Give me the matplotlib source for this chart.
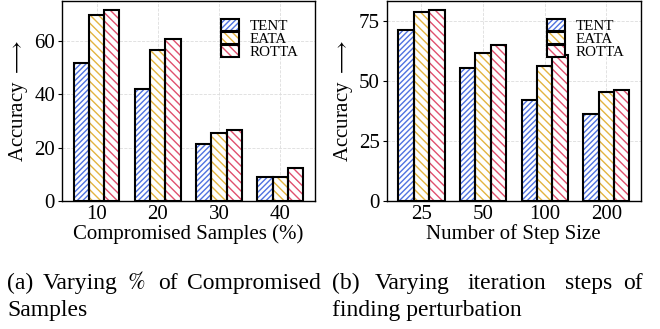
import matplotlib
matplotlib.use("Agg")
import matplotlib.pyplot as plt
from matplotlib.patches import Patch
from matplotlib.legend_handler import HandlerTuple
import numpy as np

plt.rcParams['font.family'] = ['Liberation Serif', 'DejaVu Serif']
plt.rcParams['mathtext.fontset'] = 'stix'
plt.rcParams['hatch.linewidth'] = 1.0

methods = ["TENT", "EATA", "ROTTA"]
colors = ["#4f72e0", "#e3b440", "#e0506e"]
hatches = ["//////", "\\\\\\\\", "\\\\\\\\"]

cats_a = ["10", "20", "30", "40"]
tent_a = [51.7, 41.8, 21.4, 9.1]
eata_a = [69.6, 56.4, 25.3, 9.1]
rotta_a = [71.4, 60.6, 26.4, 12.3]

cats_b = ["25", "50", "100", "200"]
tent_b = [71.1, 55.2, 41.9, 36.1]
eata_b = [78.5, 61.4, 56.2, 45.5]
rotta_b = [79.3, 64.8, 60.6, 46.2]

fig = plt.figure(figsize=(6.6, 3.29), dpi=100)
ax1 = fig.add_axes([0.094, 0.389, 0.383, 0.609])
ax2 = fig.add_axes([0.586, 0.389, 0.385, 0.609])

FS = 15


def draw(ax, cats, series, yticks, xlabel):
    x = np.arange(len(cats))
    w = 0.25
    for i, (vals, m) in enumerate(zip(series, methods)):
        ax.bar(x + (i - 1) * w, vals, w, facecolor="white",
               edgecolor=colors[i], hatch=hatches[i], linewidth=0, zorder=2)
        ax.bar(x + (i - 1) * w, vals, w, facecolor="none",
               edgecolor="black", linewidth=1.5, zorder=3)
    ax.set_xticks(x)
    ax.set_xticklabels(cats, fontsize=FS)
    ax.set_yticks(yticks)
    ax.tick_params(axis='y', labelsize=FS, length=3, pad=2)
    ax.tick_params(axis='x', length=0, pad=3)
    ymax = max(max(s) for s in series) * 1.05
    ax.set_ylim(0, ymax)
    ax.grid(True, color="#dddddd", linestyle="--", linewidth=0.6, zorder=0)
    ax.set_axisbelow(True)
    ax.set_xlabel(xlabel, fontsize=FS, labelpad=0)
    ax.set_ylabel(r"Accuracy $\longrightarrow$", fontsize=FS, labelpad=3)
    for sp in ax.spines.values():
        sp.set_linewidth(1.0)
    handles = []
    for i in range(3):
        p1 = Patch(facecolor="white", edgecolor=colors[i], hatch=hatches[i], linewidth=0)
        p2 = Patch(facecolor="none", edgecolor="black", linewidth=1.5)
        handles.append((p1, p2))
    ax.legend(handles=handles, labels=methods, loc="upper right", fontsize=10.8,
              frameon=False, labelspacing=-0.08, handlelength=1.15,
              handleheight=0.85, handletextpad=0.75,
              borderaxespad=0.2, bbox_to_anchor=(0.972, 0.952),
              handler_map={tuple: HandlerTuple(ndivide=1, pad=0)})


draw(ax1, cats_a, [tent_a, eata_a, rotta_a], [0, 20, 40, 60],
     "Compromised Samples (%)")
draw(ax2, cats_b, [tent_b, eata_b, rotta_b], [0, 25, 50, 75],
     "Number of Step Size")

CF = 17
y1, y2 = 0.1216, 0.0395
words_a = ["(a)", "Varying", r"$\%$", "of", "Compromised"]
xs_a = [7, 43, 127, 158, 187]
for wd, xx in zip(words_a, xs_a):
    fig.text(xx / 660, y1, wd, fontsize=CF, ha="left", va="baseline")
fig.text(7 / 660, y2, "Samples", fontsize=CF, ha="left", va="baseline")
words_b = ["(b)", "Varying", "iteration", "steps", "of"]
xs_b = [332, 375, 468, 565, 623]
for wd, xx in zip(words_b, xs_b):
    fig.text(xx / 660, y1, wd, fontsize=CF, ha="left", va="baseline")
fig.text(332 / 660, y2, "finding perturbation", fontsize=CF, ha="left", va="baseline")

fig.savefig("out.png", dpi=100)
